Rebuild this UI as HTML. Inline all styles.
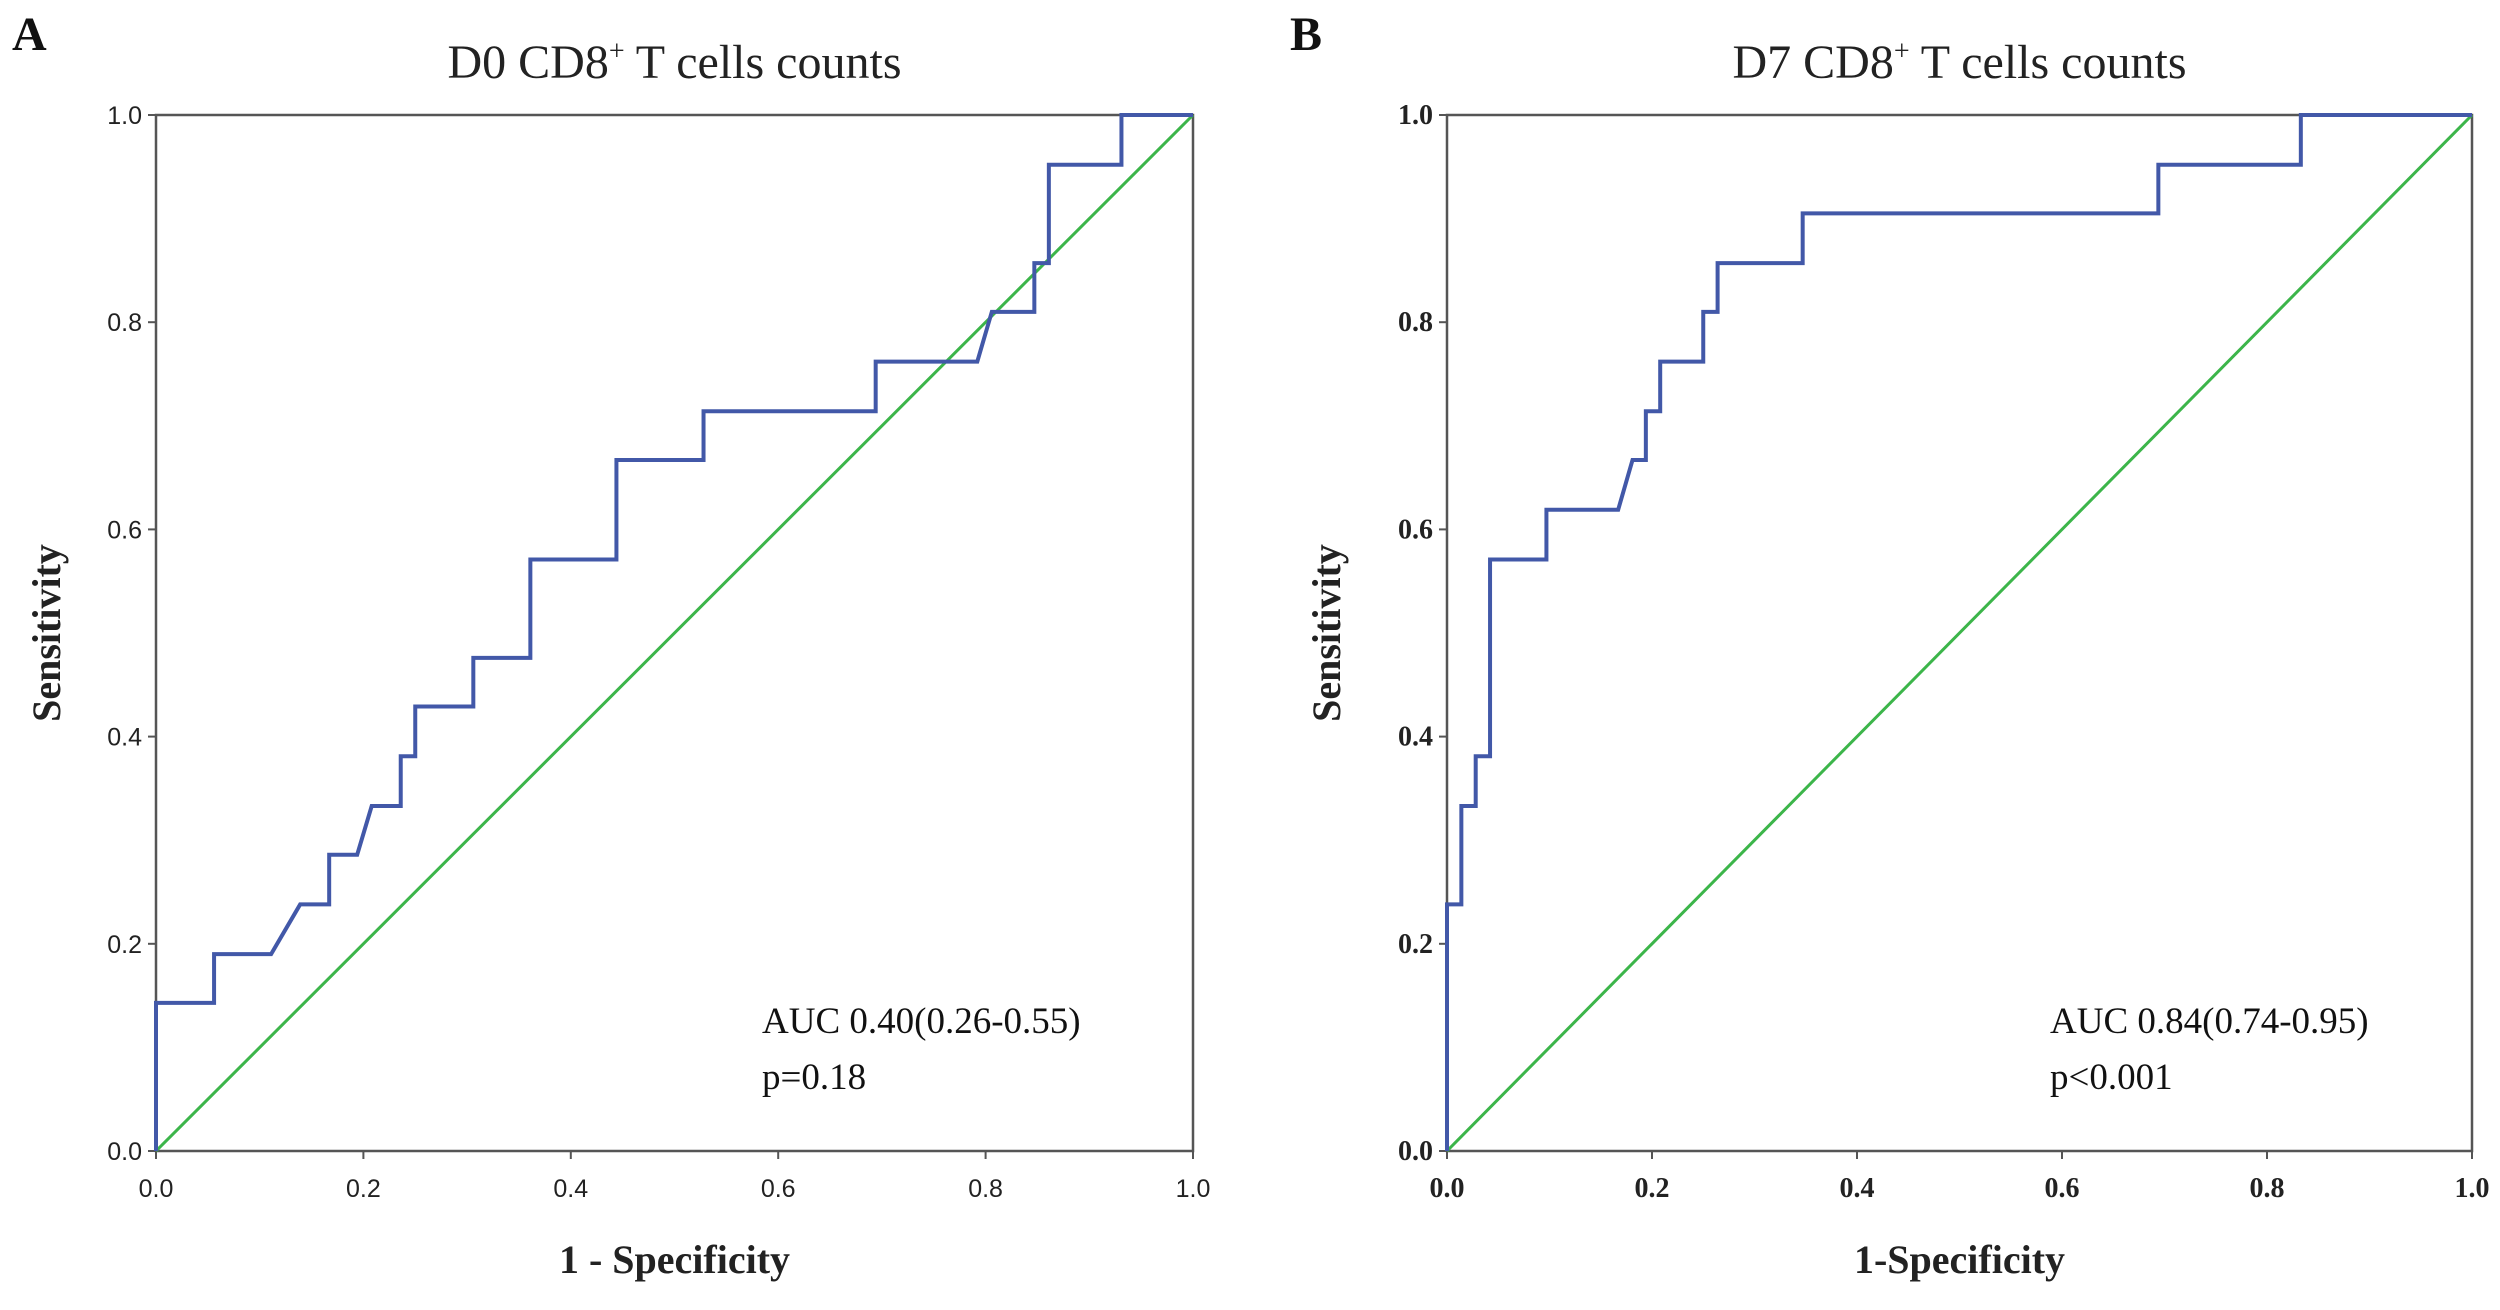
<!DOCTYPE html>
<html><head><meta charset="utf-8"><style>
html,body{margin:0;padding:0;background:#fff;}
</style></head><body>
<svg id="svg" width="2500" height="1305" xmlns="http://www.w3.org/2000/svg" style="font-family:'Liberation Serif',serif"></svg>
<script>
const ticks=[0,0.2,0.4,0.6,0.8,1.0];
const tickLabels=["0.0","0.2","0.4","0.6","0.8","1.0"];
const rocA_fpr=[0,0,0.056,0.056,0.111,0.139,0.167,0.167,0.194,0.208,0.236,0.236,0.25,0.25,0.306,0.306,0.361,0.361,0.444,0.444,0.528,0.528,0.694,0.694,0.792,0.806,0.847,0.847,0.861,0.861,0.931,0.931,1];
const rocA_tpr=[0,0.143,0.143,0.19,0.19,0.238,0.238,0.286,0.286,0.333,0.333,0.381,0.381,0.429,0.429,0.476,0.476,0.571,0.571,0.667,0.667,0.714,0.714,0.762,0.762,0.81,0.81,0.857,0.857,0.952,0.952,1,1];
const rocB_fpr=[0,0,0.014,0.014,0.028,0.028,0.042,0.042,0.097,0.097,0.167,0.181,0.194,0.194,0.208,0.208,0.25,0.25,0.264,0.264,0.347,0.347,0.694,0.694,0.833,0.833,1];
const rocB_tpr=[0,0.238,0.238,0.333,0.333,0.381,0.381,0.571,0.571,0.619,0.619,0.667,0.667,0.714,0.714,0.762,0.762,0.81,0.81,0.857,0.857,0.905,0.905,0.952,0.952,1,1];
const svg=document.getElementById('svg');
const NS='http://www.w3.org/2000/svg';
function mk(tag,attrs,parent){const e=document.createElementNS(NS,tag);for(const k in attrs)e.setAttribute(k,attrs[k]);(parent||svg).appendChild(e);return e;}
function txt(s,attrs,parent){const e=mk('text',attrs,parent);e.textContent=s;return e;}
function panel(cfg){
  const g=mk('g',{});
  
  
  const X=v=>cfg.x0+v*(cfg.x1-cfg.x0), Y=v=>cfg.y0-v*(cfg.y0-cfg.y1);
  const fr=mk('rect',{x:cfg.x0,y:cfg.y1,width:cfg.x1-cfg.x0,height:cfg.y0-cfg.y1,fill:'none',stroke:'#555','stroke-width':2.5},g);
  
  
  ticks.forEach((t,i)=>{
    mk('line',{x1:X(t),x2:X(t),y1:cfg.y0,y2:cfg.y0+8,stroke:'#555','stroke-width':2},g);
    mk('line',{x1:cfg.x0-8,x2:cfg.x0,y1:Y(t),y2:Y(t),stroke:'#555','stroke-width':2},g);
    const tx=txt(tickLabels[i],{x:X(t),y:cfg.y0+46,'text-anchor':'middle','font-size':cfg.tickSize,'font-weight':cfg.tickWeight,fill:'#222',style:'font-family:'+cfg.tickFont},g);
    
    
    const ty=txt(tickLabels[i],{x:cfg.x0-14,y:Y(t)+9,'text-anchor':'end','font-size':cfg.tickSize,'font-weight':cfg.tickWeight,fill:'#222',style:'font-family:'+cfg.tickFont},g);
    
    
  });
  const ref=mk('line',{x1:X(0),y1:Y(0),x2:X(1),y2:Y(1),stroke:'#3cb54a','stroke-width':3},g);
  
  
  const pts=cfg.fpr.map((f,i)=>X(f)+','+Y(cfg.tpr[i])).join(' ');
  const roc=mk('polyline',{points:pts,fill:'none',stroke:'#4258a8','stroke-width':4,'stroke-linejoin':'miter'},g);
  
  
  const lt=txt(cfg.letter,{x:cfg.letterX,y:50,'font-size':48,'font-weight':'bold',fill:'#111'},g);
  
  
  const ti=mk('text',{x:(cfg.x0+cfg.x1)/2,y:78,'text-anchor':'middle','font-size':48,fill:'#222'},g);
  ti.innerHTML=cfg.t1+'<tspan dy="-18" font-size="28">+</tspan><tspan dy="18"> T cells counts</tspan>';
  
  
  const xt=txt(cfg.xTitle,{x:(cfg.x0+cfg.x1)/2,y:1273,'text-anchor':'middle','font-size':40,'font-weight':'bold',fill:'#222'},g);
  
  
  const yt=txt('Sensitivity',{x:0,y:0,'text-anchor':'middle','font-size':40,'font-weight':'bold',fill:'#222',transform:`translate(${cfg.yTitleX},633) rotate(-90)`},g);
  
  
  const a1=txt(cfg.auc,{x:cfg.aucX,y:1033,'font-size':37,fill:'#111'},g);
  
  
  const a2=txt(cfg.p,{x:cfg.aucX,y:1089,'font-size':37,fill:'#111'},g);
  
  
}
panel({name:'panel-a',x0:156,x1:1193,y0:1151,y1:115,fpr:rocA_fpr,tpr:rocA_tpr,letter:'A',letterX:12,t1:'D0 CD8',xTitle:'1 - Specificity',yTitleX:60,auc:'AUC 0.40(0.26-0.55)',p:'p=0.18',aucX:762,tickSize:25,tickFont:"'Liberation Sans',sans-serif",tickWeight:'normal'});
panel({name:'panel-b',x0:1447,x1:2472,y0:1151,y1:115,fpr:rocB_fpr,tpr:rocB_tpr,letter:'B',letterX:1290,t1:'D7 CD8',xTitle:'1-Specificity',yTitleX:1340,auc:'AUC 0.84(0.74-0.95)',p:'p<0.001',aucX:2050,tickSize:28,tickFont:"'Liberation Serif',serif",tickWeight:'bold'});
</script>
</body></html>
